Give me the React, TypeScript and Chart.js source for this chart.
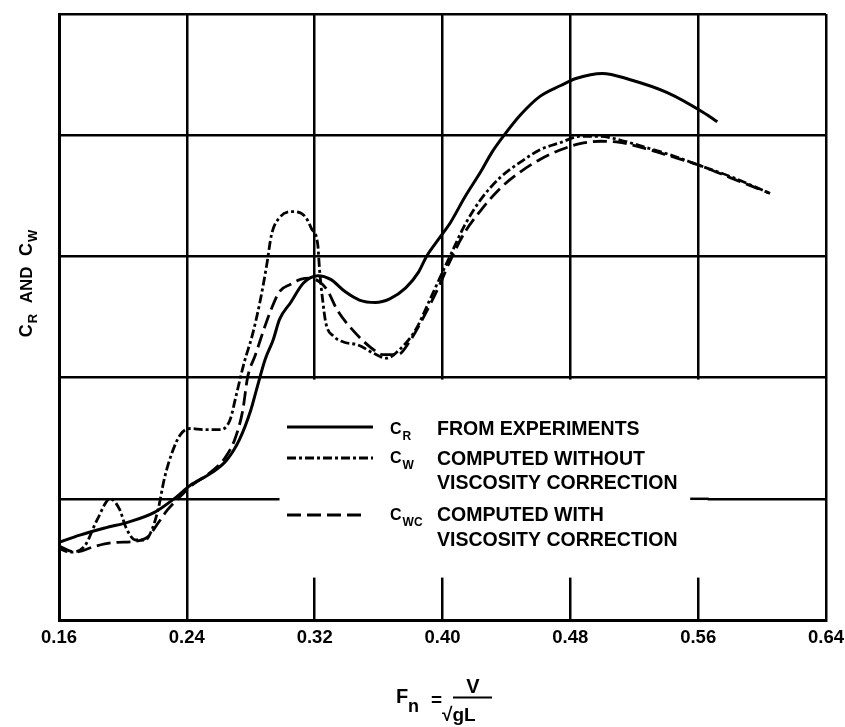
import React, { useEffect, useRef } from "react";
import { Chart, registerables } from "chart.js";

Chart.register(...registerables);

// ---------- data ----------
const X_TICKS = [0.16, 0.24, 0.32, 0.4, 0.48, 0.56, 0.64];
const Y_GRID = [0, 1, 2, 3, 4, 5];

// C_R from experiments (solid)
const CR_FN = [0.160, 0.173, 0.189, 0.204, 0.220, 0.233, 0.242, 0.255, 0.265, 0.273, 0.280, 0.284, 0.289, 0.294, 0.298, 0.305, 0.313, 0.322, 0.330, 0.339, 0.348, 0.358, 0.367, 0.377, 0.385, 0.390, 0.398, 0.405, 0.414, 0.424, 0.431, 0.438, 0.449, 0.461, 0.474, 0.484, 0.500, 0.517, 0.541, 0.563, 0.572];
const CR_VAL = [0.64, 0.70, 0.76, 0.81, 0.89, 1.01, 1.11, 1.21, 1.32, 1.49, 1.73, 1.92, 2.15, 2.31, 2.48, 2.62, 2.78, 2.84, 2.81, 2.71, 2.64, 2.62, 2.65, 2.74, 2.87, 3.00, 3.15, 3.28, 3.49, 3.70, 3.86, 3.99, 4.17, 4.32, 4.41, 4.47, 4.51, 4.46, 4.35, 4.19, 4.11];

// C_W computed without viscosity correction (dash-dot)
const CW_FN = [0.160, 0.167, 0.176, 0.184, 0.192, 0.198, 0.202, 0.208, 0.214, 0.218, 0.222, 0.226, 0.231, 0.236, 0.242, 0.251, 0.261, 0.267, 0.271, 0.276, 0.281, 0.286, 0.290, 0.293, 0.298, 0.306, 0.314, 0.318, 0.322, 0.323, 0.325, 0.327, 0.332, 0.339, 0.347, 0.357, 0.365, 0.373, 0.383, 0.392, 0.400, 0.405, 0.414, 0.424, 0.436, 0.449, 0.461, 0.474, 0.486, 0.499, 0.511, 0.527, 0.542, 0.561, 0.580, 0.605];
const CW_VAL = [0.59, 0.56, 0.61, 0.83, 1.00, 0.91, 0.76, 0.66, 0.66, 0.74, 0.91, 1.17, 1.39, 1.53, 1.58, 1.57, 1.57, 1.65, 1.86, 2.13, 2.35, 2.64, 2.93, 3.18, 3.32, 3.37, 3.33, 3.23, 3.09, 2.90, 2.64, 2.45, 2.34, 2.29, 2.27, 2.20, 2.16, 2.23, 2.39, 2.64, 2.87, 3.01, 3.26, 3.47, 3.65, 3.78, 3.88, 3.94, 3.99, 3.99, 3.96, 3.90, 3.84, 3.75, 3.66, 3.52];

// C_WC computed with viscosity correction (dashed)
const CWC_FN = [0.160, 0.170, 0.183, 0.195, 0.208, 0.216, 0.222, 0.228, 0.236, 0.243, 0.255, 0.264, 0.270, 0.275, 0.278, 0.283, 0.288, 0.293, 0.298, 0.305, 0.311, 0.317, 0.323, 0.328, 0.334, 0.344, 0.355, 0.363, 0.372, 0.380, 0.389, 0.398, 0.405, 0.414, 0.424, 0.436, 0.449, 0.461, 0.474, 0.486, 0.499, 0.511, 0.527, 0.542, 0.561, 0.580, 0.605];
const CWC_VAL = [0.61, 0.56, 0.61, 0.64, 0.65, 0.69, 0.80, 0.91, 1.02, 1.11, 1.22, 1.34, 1.49, 1.73, 2.00, 2.19, 2.39, 2.57, 2.71, 2.77, 2.81, 2.82, 2.79, 2.72, 2.56, 2.39, 2.25, 2.19, 2.19, 2.31, 2.52, 2.76, 2.97, 3.20, 3.38, 3.56, 3.70, 3.80, 3.88, 3.93, 3.95, 3.94, 3.89, 3.83, 3.75, 3.65, 3.52];

const LEGEND = [
  { sym: "C", sub: "R", lines: ["FROM EXPERIMENTS"], dash: [] as number[] },
  { sym: "C", sub: "W", lines: ["COMPUTED WITHOUT", "VISCOSITY CORRECTION"], dash: [9, 3, 3, 3] },
  { sym: "C", sub: "WC", lines: ["COMPUTED WITH", "VISCOSITY CORRECTION"], dash: [14, 6] },
];

const FONT = '"Liberation Sans", Arial, Helvetica, sans-serif';

const pts = (xs: number[], ys: number[]) => xs.map((x, i) => ({ x, y: ys[i] }));

function drawSym(ctx: CanvasRenderingContext2D, x: number, base: number, sym: string, sub: string, size = 16, subSize = 12, drop = 5) {
  ctx.font = `bold ${size}px ${FONT}`;
  ctx.fillText(sym, x, base);
  const w = ctx.measureText(sym).width;
  ctx.font = `bold ${subSize}px ${FONT}`;
  ctx.fillText(sub, x + w + 1, base + drop);
  return w + 1 + ctx.measureText(sub).width;
}

const decor = {
  id: "decor",
  beforeDatasetsDraw(chart: any) {
    const { ctx, scales } = chart;
    const x = scales.x, y = scales.y;
    ctx.save();
    // legend box (white) covering the grid
    const l = x.getPixelForValue(0.298);
    const r = x.getPixelForValue(0.566);
    const t = y.getPixelForValue(2) + 2;
    const b = y.getPixelForValue(0.35);
    ctx.fillStyle = "#fff";
    ctx.fillRect(l, t, r - l, b - t);
    ctx.strokeStyle = "#000";
    ctx.lineWidth = 2.5;
    ctx.beginPath();
    ctx.moveTo(x.getPixelForValue(0.555), y.getPixelForValue(1));
    ctx.lineTo(r + 1, y.getPixelForValue(1));
    ctx.stroke();

    // legend
    const sampleX0 = 287, sampleX1 = 373;
    const rows = [
      { sy: 427, sb: 434, tb: [435] },
      { sy: 458, sb: 463, tb: [465, 489] },
      { sy: 515, sb: 520, tb: [521, 546] },
    ];
    ctx.fillStyle = "#000";
    LEGEND.forEach((e, i) => {
      const row = rows[i];
      ctx.lineWidth = 3;
      ctx.setLineDash(e.dash);
      ctx.beginPath();
      ctx.moveTo(sampleX0, row.sy);
      ctx.lineTo(i === 2 ? 367 : sampleX1, row.sy);
      ctx.stroke();
      ctx.setLineDash([]);
      ctx.textAlign = "left";
      ctx.textBaseline = "alphabetic";
      drawSym(ctx, 390, row.sb, e.sym, e.sub, 16, 12, 6);
      ctx.font = `bold 19.5px ${FONT}`;
      e.lines.forEach((s, k) => ctx.fillText(s, 437, row.tb[k]));
    });
    ctx.restore();
  },
  afterDraw(chart: any) {
    const { ctx } = chart;
    ctx.save();
    ctx.fillStyle = "#000";
    ctx.strokeStyle = "#000";
    ctx.textBaseline = "alphabetic";
    ctx.textAlign = "left";
    // y title
    ctx.save();
    ctx.translate(32, 283);
    ctx.rotate(-Math.PI / 2);
    const parts: [string, number, number][] = [["C", 18, 0], ["R", 13, 5], ["  AND  ", 17, 0], ["C", 18, 0], ["W", 13, 5]];
    let total = 0;
    parts.forEach(([s, f]) => { ctx.font = `bold ${f}px ${FONT}`; total += ctx.measureText(s).width + 1; });
    let cx = -total / 2;
    parts.forEach(([s, f, d]) => {
      ctx.font = `bold ${f}px ${FONT}`;
      ctx.fillText(s, cx, d);
      cx += ctx.measureText(s).width + 1;
    });
    ctx.restore();

    // x title: Fn = V / sqrt(gL)
    ctx.font = `bold 20px ${FONT}`;
    ctx.fillText("F", 396, 703);
    ctx.font = `bold 18px ${FONT}`;
    ctx.fillText("n", 408, 712);
    ctx.font = `bold 19px ${FONT}`;
    ctx.fillText("=", 431, 706);
    ctx.textAlign = "center";
    ctx.font = `bold 20px ${FONT}`;
    ctx.fillText("V", 473, 693);
    ctx.lineWidth = 2;
    ctx.beginPath();
    ctx.moveTo(453, 697.5);
    ctx.lineTo(492, 697.5);
    ctx.stroke();
    ctx.textAlign = "left";
    ctx.font = `bold 19px ${FONT}`;
    ctx.fillText("\u221AgL", 442, 721);
    ctx.restore();
  },
};

export default function App() {
  const ref = useRef<HTMLCanvasElement | null>(null);
  useEffect(() => {
    if (!ref.current) return;
    const common = { pointRadius: 0, fill: false, borderColor: "#000", cubicInterpolationMode: "monotone" as const };
    const chart = new Chart(ref.current, {
      type: "line",
      data: {
        datasets: [
          { ...common, label: "CR", data: pts(CR_FN, CR_VAL), borderWidth: 3 },
          { ...common, label: "CW", data: pts(CW_FN, CW_VAL), borderWidth: 2.8, borderDash: [9, 3, 3, 3] },
          { ...common, label: "CWC", data: pts(CWC_FN, CWC_VAL), borderWidth: 2.8, borderDash: [14, 6] },
        ],
      },
      options: {
        responsive: false,
        animation: false,
        events: [],
        layout: { padding: { left: 59, right: 19, top: 14, bottom: 0 } },
        plugins: { legend: { display: false }, tooltip: { enabled: false } },
        scales: {
          x: {
            type: "linear",
            min: 0.16,
            max: 0.64,
            afterBuildTicks: (s: any) => { s.ticks = X_TICKS.map((v) => ({ value: v })); },
            afterFit: (s: any) => { s.height = 107; s.paddingLeft = 0; s.paddingRight = 0; },
            ticks: {
              color: "#000",
              padding: 7,
              maxRotation: 0,
              autoSkip: false,
              font: { family: FONT, size: 18.5, weight: "bold" },
              callback: (v: any) => Number(v).toFixed(2),
            },
            grid: { color: "#000", lineWidth: 2.5, drawTicks: false },
            border: { color: "#000", width: 3 },
          },
          y: {
            type: "linear",
            min: 0,
            max: 5,
            afterBuildTicks: (s: any) => { s.ticks = Y_GRID.map((v) => ({ value: v })); },
            afterFit: (s: any) => { s.width = 0; },
            ticks: { display: false },
            grid: { color: "#000", lineWidth: 2.5, drawTicks: false },
            border: { color: "#000", width: 3 },
          },
        },
      },
      plugins: [decor],
    });
    return () => chart.destroy();
  }, []);
  return (
    <div style={{ position: "absolute", left: 0, top: 0, width: 845, height: 727, background: "#fff" }}>
      <canvas ref={ref} width={845} height={727} style={{ display: "block" }} />
    </div>
  );
}
